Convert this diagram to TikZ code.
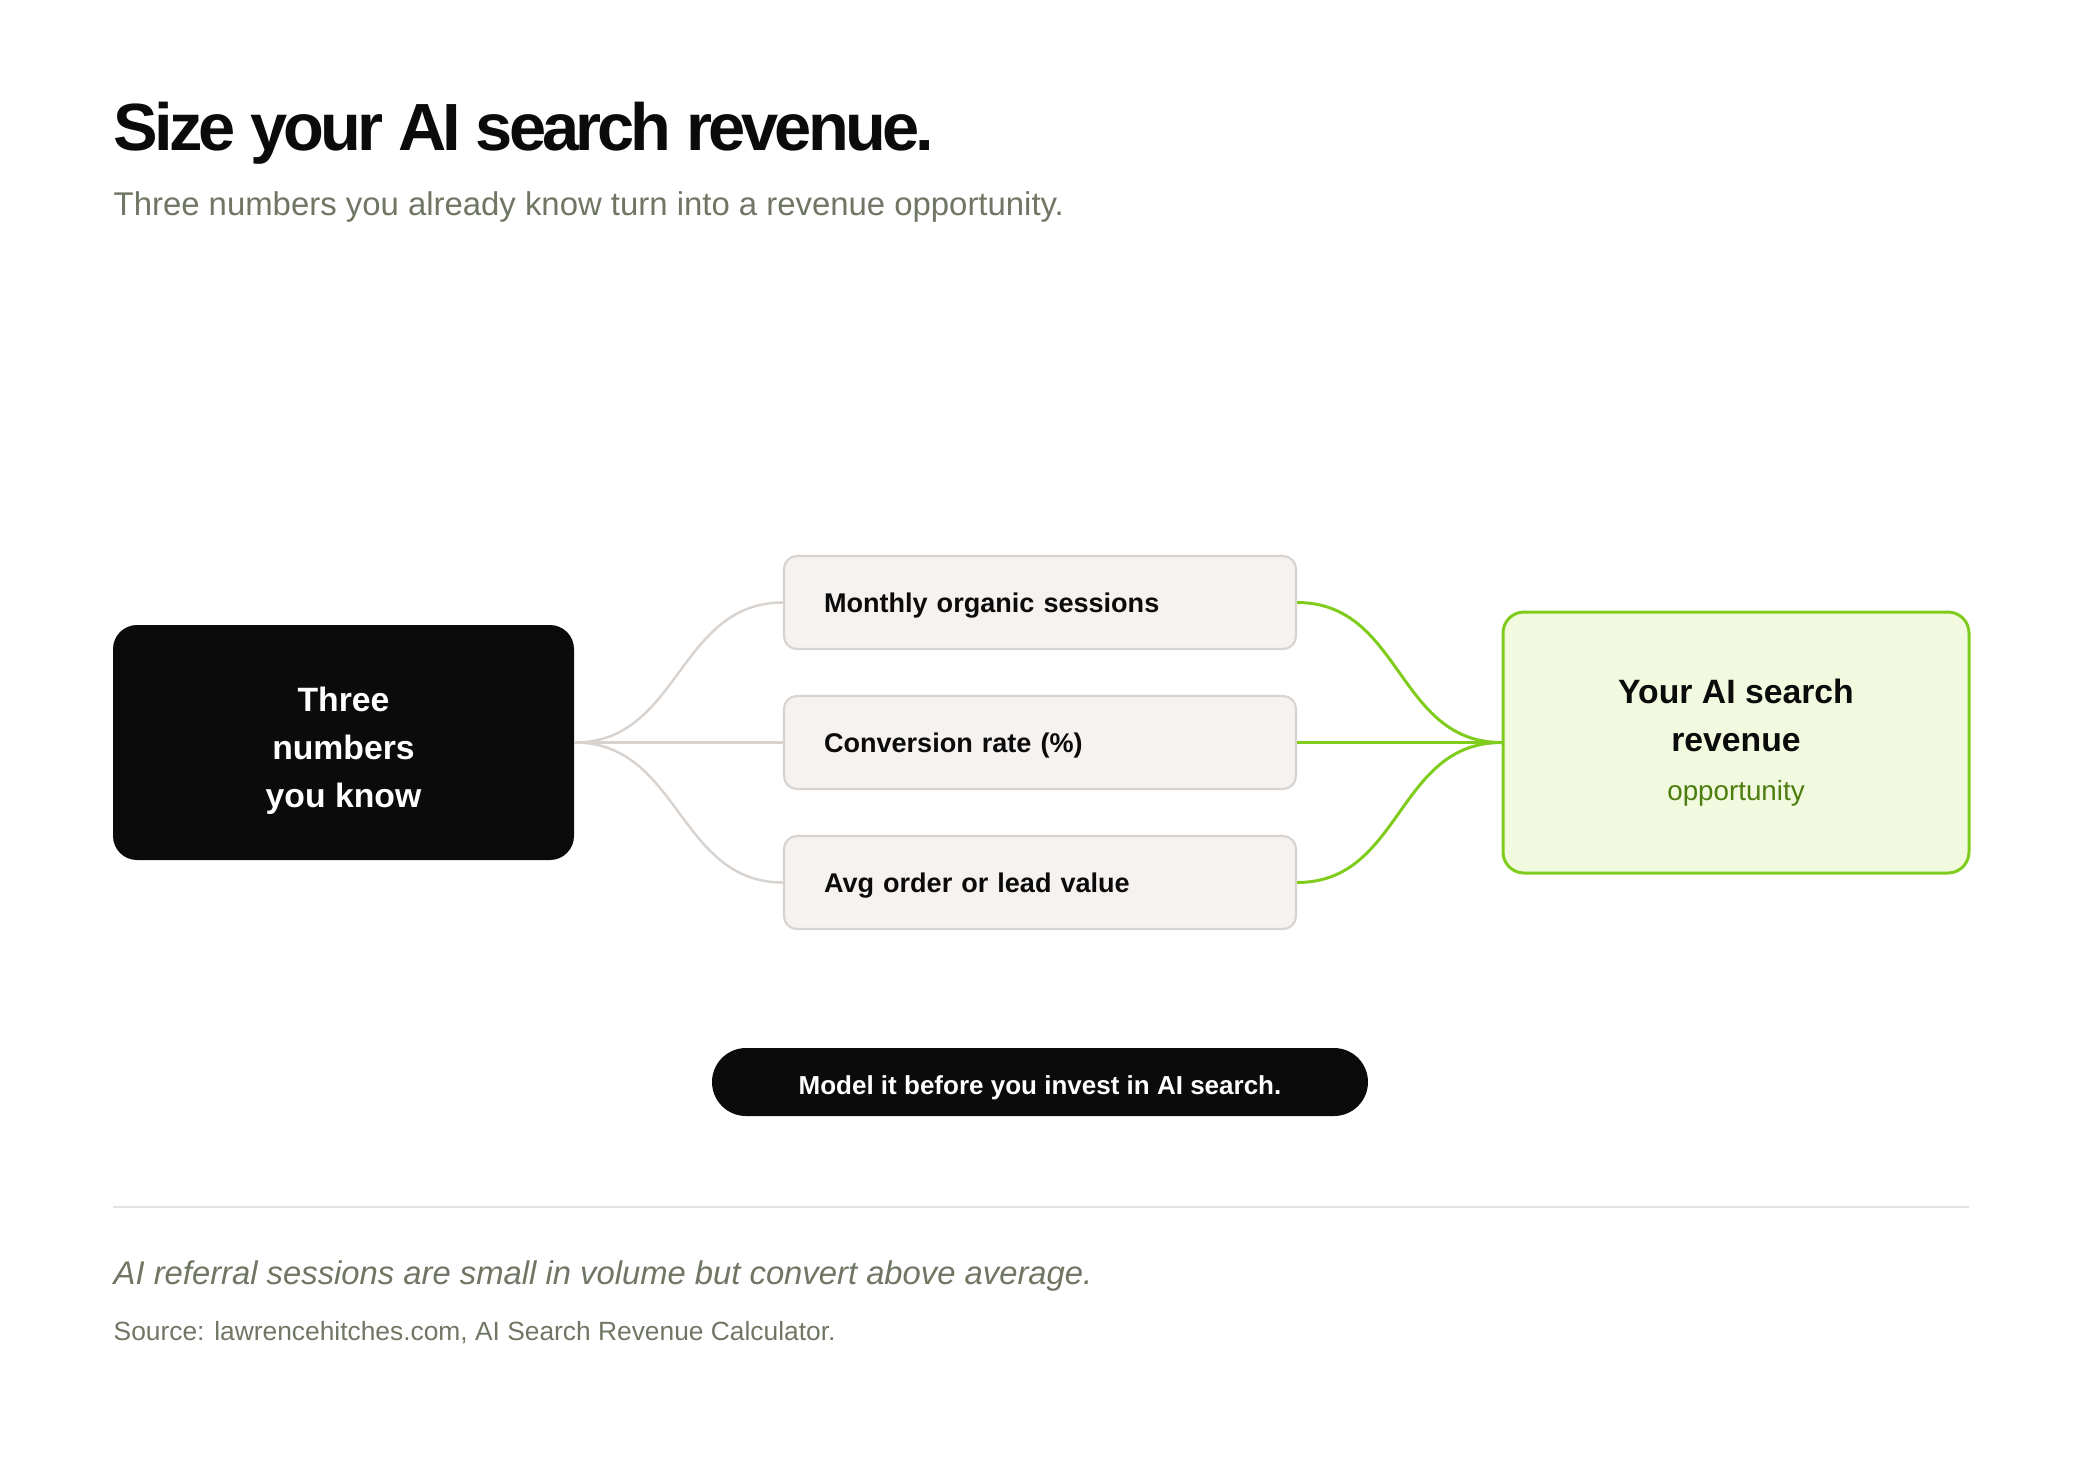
\documentclass[tikz,border=0pt]{standalone}
\usepackage{fontspec}
\setmainfont{Liberation Sans}
\newfontfamily\headfont[LetterSpace=-5.8]{Liberation Sans}
\definecolor{ink-black}{HTML}{0B0B0B}
\definecolor{muted-olive}{HTML}{6F7663}
\definecolor{card-fill}{HTML}{F5F2F0}
\definecolor{card-line}{HTML}{D8D3CE}
\definecolor{lime-green}{HTML}{80CC1C}
\definecolor{lime-fill}{HTML}{F1FADF}
\definecolor{moss-green}{HTML}{4D7C0F}
\definecolor{rule-grey}{HTML}{E6E3DF}

\begin{document}
\begin{tikzpicture}[
      every node/.style={inner sep=0pt},
      known box/.style={fill=ink-black, rounded corners=0.24cm,
          minimum width=4.61cm, minimum height=2.35cm, text=white,
          align=center, text height=1.37cm,
          font=\bfseries\fontsize{9.6}{13.7}\selectfont},
      input box/.style={draw=card-line, line width=0.6pt, fill=card-fill,
          rounded corners=0.13cm, text width=4.32cm, inner xsep=0.4cm,
          minimum height=0.93cm, align=left, text=ink-black,
          text depth=0pt, font=\bfseries\fontsize{7.7}{9}\selectfont},
      result box/.style={draw=lime-green, line width=0.85pt, fill=lime-fill,
          rounded corners=0.21cm, minimum width=4.66cm,
          minimum height=2.61cm, align=center, text=ink-black,
          font=\bfseries\fontsize{9.6}{13.7}\selectfont},
      pill/.style={fill=ink-black, rounded corners=0.34cm,
          minimum width=6.56cm, minimum height=0.68cm, text=white,
          text height=0.72em, text depth=0pt,
          font=\bfseries\fontsize{7.4}{9}\selectfont},
      grey link/.style={draw=card-line, line width=0.7pt},
      green link/.style={draw=lime-green, line width=0.85pt}]
    \useasboundingbox (0,0) rectangle (20.8,-14.8);

    % heading
    \node[anchor=base west, text=ink-black,
          font=\headfont\bfseries\fontsize{19}{22}\selectfont]
          (title) at (1.13,-1.50) {Size your AI search revenue.};
    \node[anchor=base west, text=muted-olive,
          font=\fontsize{9.36}{11}\selectfont]
          (subtitle) at (1.13,-2.15)
          {Three numbers you already know turn into a revenue opportunity.};

    % the three inputs
    \node[known box] (known) at (3.435,-7.425) {Three\\numbers\\you know};
    \node[input box] (sessions) at (10.40,-6.025) {Monthly organic sessions};
    \node[input box] (rate)     at (10.40,-7.425) {Conversion rate (\%)};
    \node[input box] (value)    at (10.40,-8.825) {Avg order or lead value};
    \node[result box] (revenue) at (17.36,-7.425)
          {Your AI search\\revenue\\[0pt]\mdseries\color{moss-green}%
           \fontsize{7.9}{12}\selectfont opportunity};

    \draw[grey link] (known.east) .. controls +(1.05,0) and +(-1.05,0) .. (sessions.west);
    \draw[grey link] (known.east) -- (rate.west);
    \draw[grey link] (known.east) .. controls +(1.05,0) and +(-1.05,0) .. (value.west);
    \draw[green link] (sessions.east) .. controls +(1.05,0) and +(-1.05,0) .. (revenue.west);
    \draw[green link] (rate.east) -- (revenue.west);
    \draw[green link] (value.east) .. controls +(1.05,0) and +(-1.05,0) .. (revenue.west);

    \node[pill] (cta) at (10.40,-10.82) {Model it before you invest in AI search.};

    % footer
    \coordinate (ruleL) at (1.13,-12.07);
    \coordinate (ruleR) at (19.69,-12.07);
    \draw[rule-grey, line width=0.45pt] (ruleL) -- (ruleR);
    \node[anchor=base west, text=muted-olive,
          font=\itshape\fontsize{9.33}{11}\selectfont]
          (note) at (1.13,-12.84)
          {AI referral sessions are small in volume but convert above average.};
    \node[anchor=base west, text=muted-olive,
          font=\fontsize{7.5}{9}\selectfont]
          (source) at (1.13,-13.40)
          {Source: lawrencehitches.com, AI Search Revenue Calculator.};
  \end{tikzpicture}
\end{document}
